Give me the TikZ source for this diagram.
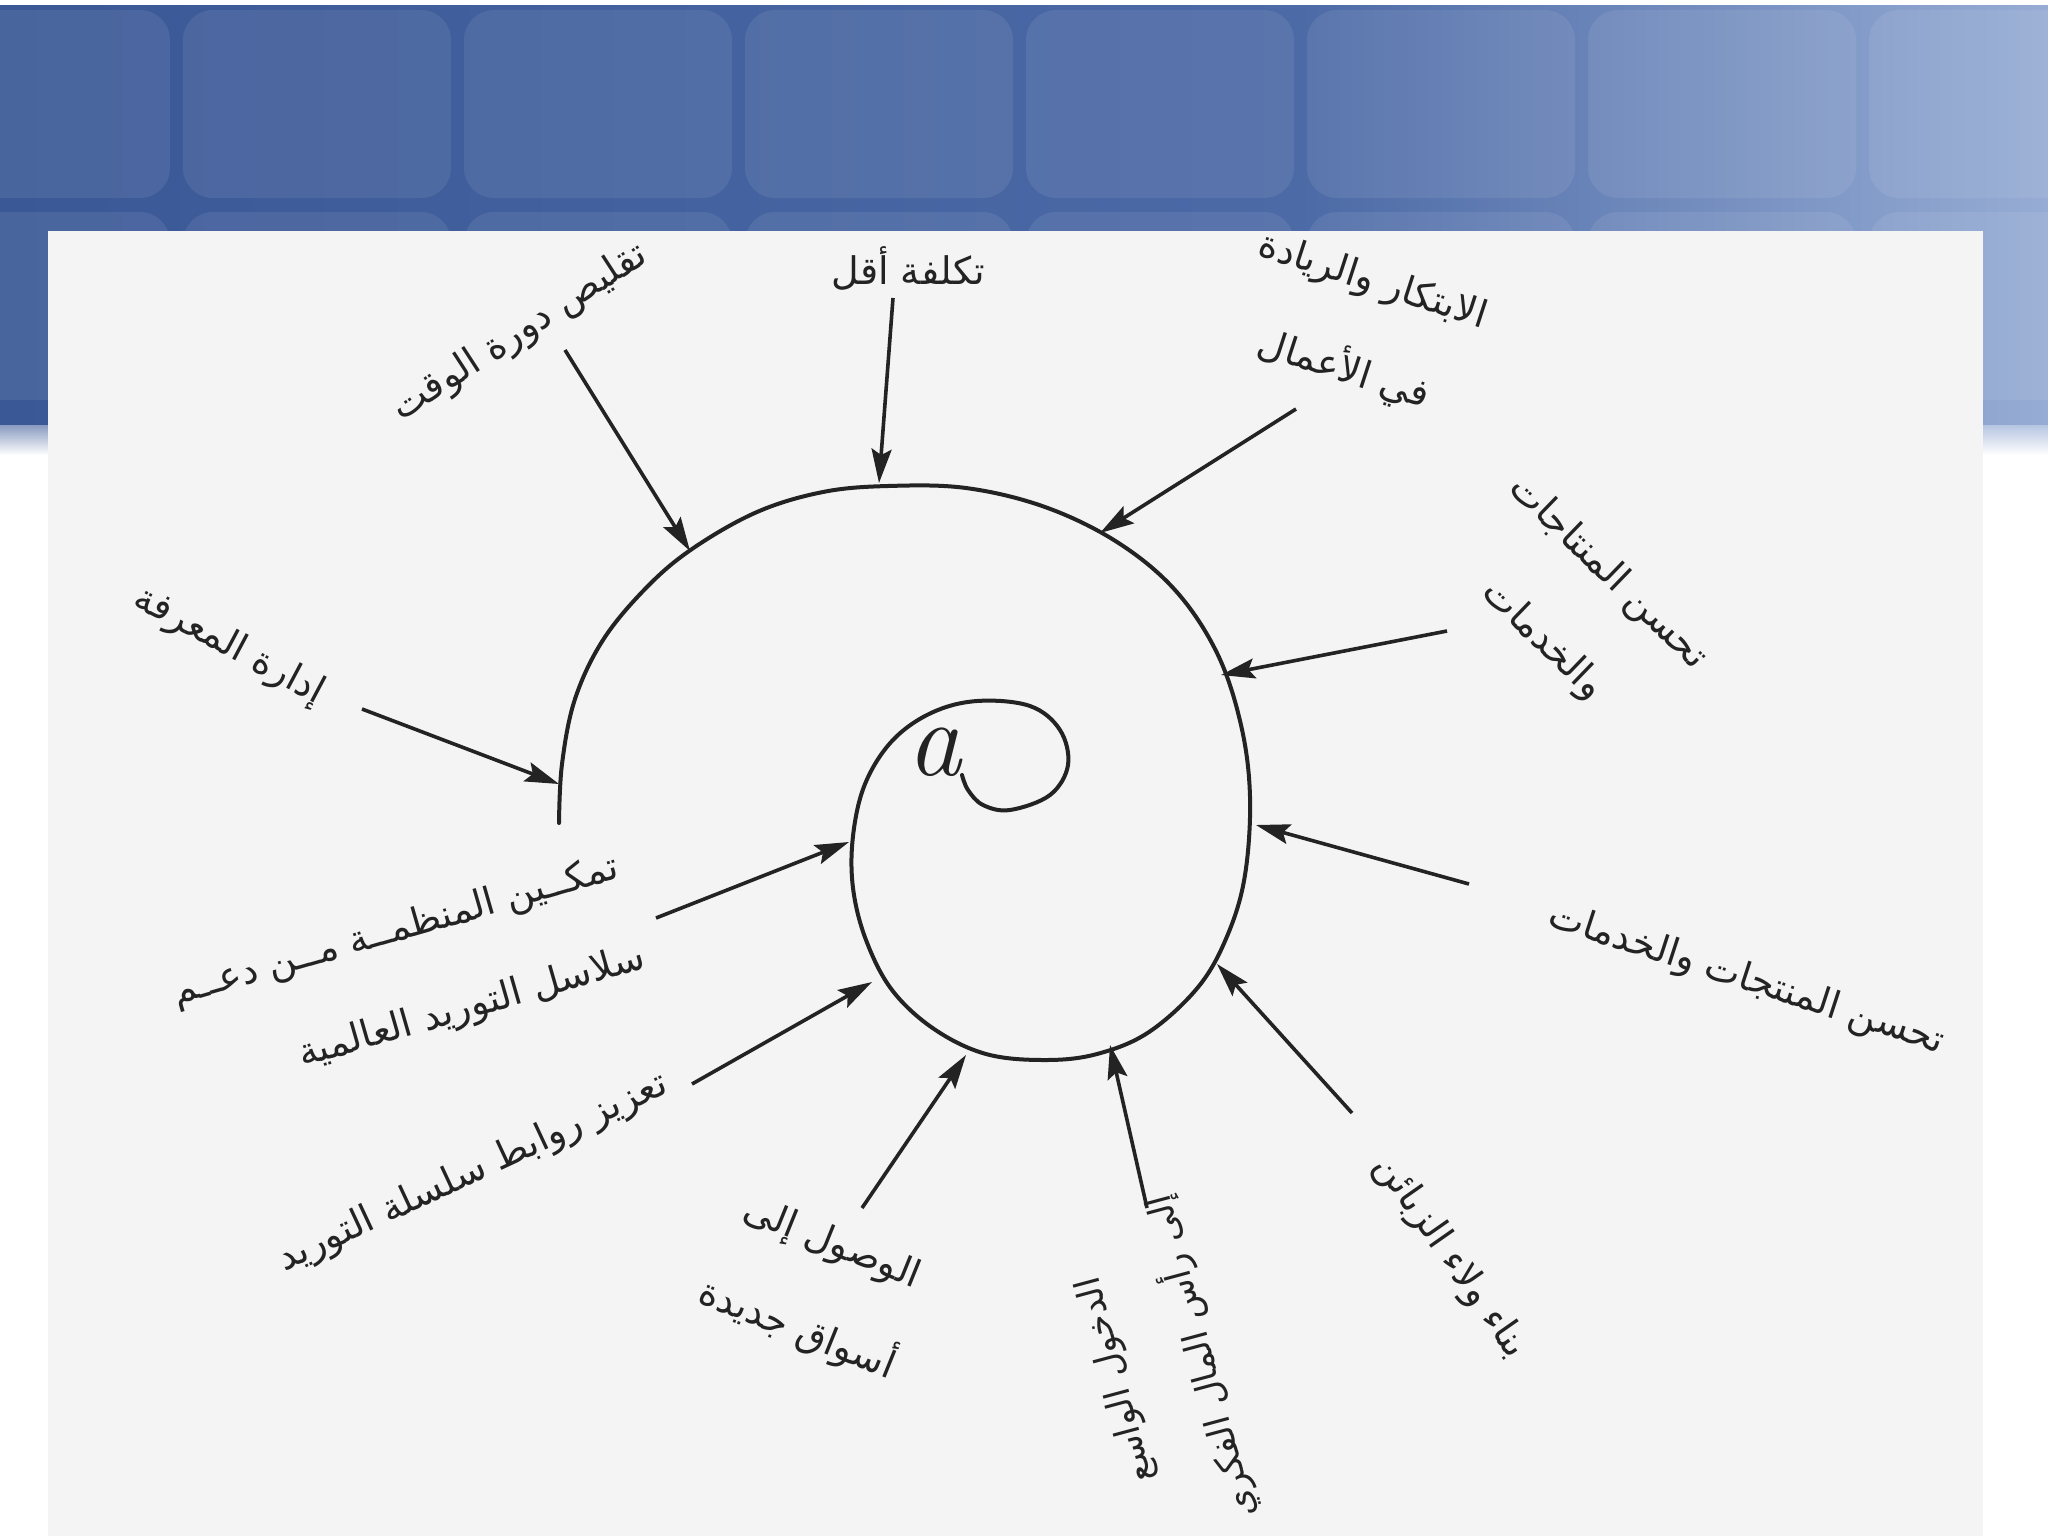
\documentclass[tikz,border=0pt]{standalone}
\usepackage{fontspec}
\newfontfamily\arabicfont[Script=Arabic]{DejaVu Sans}
\TeXXeTstate=1
\usetikzlibrary{arrows.meta}
\definecolor{bannerL}{RGB}{58,88,150}
\definecolor{bannerM}{RGB}{76,106,166}
\definecolor{bannerR}{RGB}{150,172,212}
\definecolor{panel}{RGB}{244,244,244}
\definecolor{ink}{RGB}{35,35,35}
\begin{document}
\begin{tikzpicture}[x=0.5pt,y=-0.5pt,
  spiral/.style={draw=ink, line width=2pt, line cap=round},
  arr/.style={draw=ink, line width=1.8pt, -{Stealth[length=17pt,width=10pt,inset=3pt]}},
  lab/.style={font=\arabicfont\fontsize{19pt}{47pt}\selectfont, text=ink, inner sep=0pt, align=center}]
\useasboundingbox (0,0) rectangle (2048,1536);
\fill[white] (0,0) rectangle (2048,1536);
% banner
\shade[left color=bannerL, right color=bannerM] (0,6) rectangle (1300,445);
\shade[left color=bannerM, right color=bannerR] (1300,6) rectangle (2048,445);
\foreach \cx in {-98,183,464,745,1026,1307,1588,1869} {
  \foreach \cy in {10,212} {
    \fill[white, opacity=0.08, rounded corners=15pt] (\cx,\cy) rectangle ++(268,188);
  }
}
\shade[top color=bannerL!60!white, bottom color=white] (0,425) rectangle (48,455);
\shade[top color=bannerR!70!white, bottom color=white] (1983,425) rectangle (2048,455);
% panel
\fill[panel] (48,231) rectangle (1983,1536);
% letter a
\node[font=\fontsize{54pt}{54pt}\selectfont\itshape, text=ink, inner sep=0pt] (a) at (934,752) {a};
% spiral
\draw[spiral] plot[smooth, tension=0.6] coordinates {
  (559,823) (562,764) (575,699) (603,640) (646,588) (692,549) (757,512)
  (823,492) (888,486) (966,488) (1045,507) (1117,542) (1175,590) (1217,653)
  (1241,725) (1250,797) (1245,875) (1228,934) (1199,986) (1149,1032)
  (1097,1054) (1045,1060) (986,1054) (934,1029) (892,990) (866,940)
  (853,888) (853,836) (865,784) (892,741) (931,713) (977,701) (1030,706)
  (1060,730) (1068,765) (1050,795) (1010,810) (983,805) (968,790) (962,775)};
% arrows
\coordinate (s1) at (362,709);   \coordinate (t1) at (559,784);
\coordinate (s2) at (565,350);   \coordinate (t2) at (690,551);
\coordinate (s3) at (893,298);   \coordinate (t3) at (879,483);
\coordinate (s4) at (1296,409);  \coordinate (t4) at (1100,533);
\coordinate (s5) at (1447,631);  \coordinate (t5) at (1221,675);
\coordinate (s6) at (1469,884);  \coordinate (t6) at (1256,825);
\coordinate (s7) at (1352,1113); \coordinate (t7) at (1217,964);
\coordinate (s8) at (1147,1208); \coordinate (t8) at (1110,1045);
\coordinate (s9) at (862,1208);  \coordinate (t9) at (966,1055);
\coordinate (s10) at (692,1084); \coordinate (t10) at (872,982);
\coordinate (s11) at (656,918);  \coordinate (t11) at (849,842);
\foreach \i in {1,...,11} { \draw[arr] (s\i) -- (t\i); }
% labels
\node[lab, rotate=-28] (l1) at (229,646) {\beginR إدارة المعرفة\endR};
\node[lab, rotate=33] (l2) at (520,333) {\beginR تقليص دورة الوقت\endR};
\node[lab] (l3) at (908,268) {\beginR تكلفة أقل\endR};
\node[lab, rotate=-18] (l4) at (1358,327) {\beginR الابتكار والريادة\endR\\\beginR في الأعمال\endR};
\node[lab, rotate=-44] (l5) at (1575,607) {\beginR تحسن المنتاجات\endR\\\beginR والخدمات\endR};
\node[lab, rotate=-18] (l6) at (1746,980) {\beginR تحسن المنتجات والخدمات\endR};
\node[lab, rotate=-55] (l7) at (1450,1257) {\beginR بناء ولاء الزبائن\endR};
\node[lab, rotate=105, font=\arabicfont\fontsize{17.5pt}{45pt}\selectfont] (l8) at (1160,1368) {\beginR الدخول الواسع\endR\\\beginR إلى رأس المال الفكري\endR};
\node[lab, rotate=-22] (l9) at (814,1288) {\beginR الوصول إلى\endR\\\beginR أسواق جديدة\endR};
\node[lab, rotate=25] (l10) at (473,1173) {\beginR تعزيز روابط سلسلة التوريد\endR};
\node[lab, rotate=16, align=right] (l11) at (409,977) {\beginR تمكــين المنظمــة مــن دعــم\endR\\\beginR سلاسل التوريد العالمية\endR};
\end{tikzpicture}
\end{document}
